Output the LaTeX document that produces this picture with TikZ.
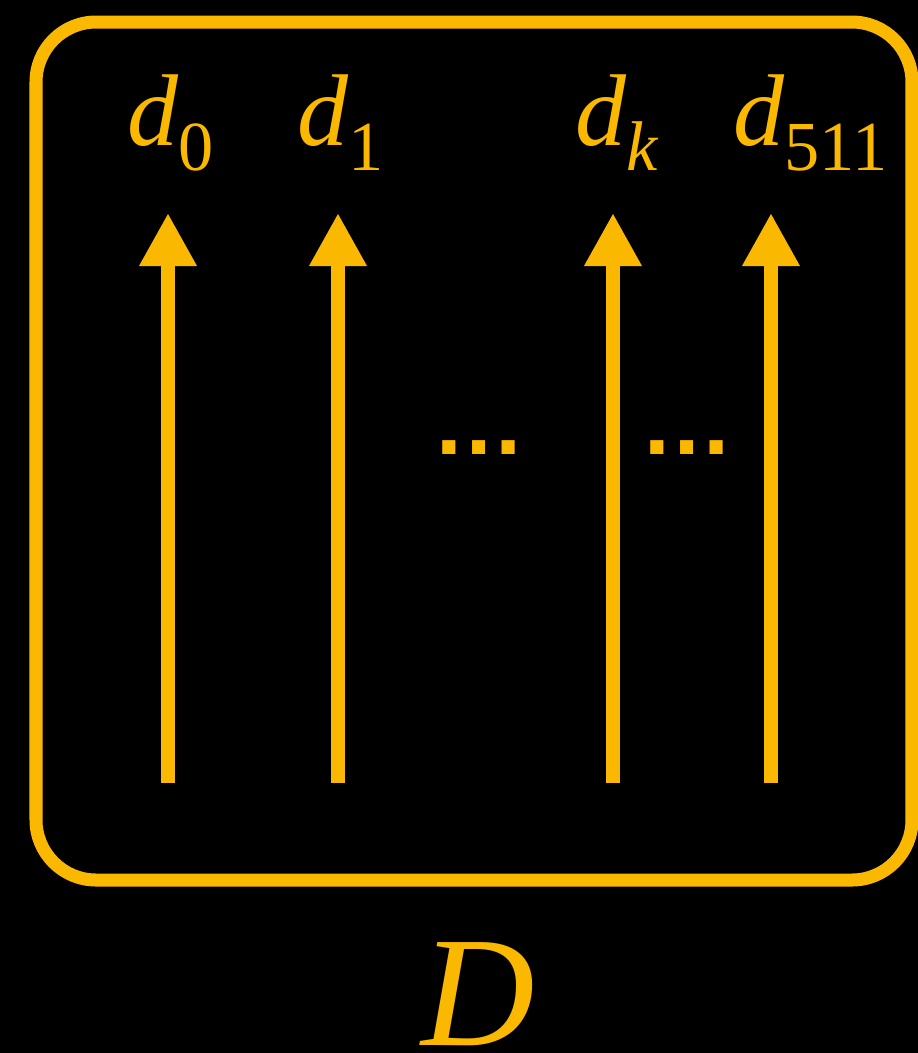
\documentclass[tikz,border=0pt]{standalone}
\usepackage{fontspec}
\setmainfont{Liberation Serif}
\newfontfamily\dotfont{Liberation Sans}
\usetikzlibrary{arrows.meta}
\definecolor{cgold}{HTML}{FAB900}
\tikzset{
	every picture/.style={font=\fontsize{29}{29}\selectfont,},
	lw/.style={line width=0.13cm,},
	%%%
	frame/.style={cgold, lw, rounded corners=0.6cm},
	dataarrow/.style={cgold, lw, -{Triangle[length=0.53cm, width=0.54cm]}},
	dlabel/.style={cgold, anchor=base west, inner sep=0},
	ellip/.style={cgold, anchor=base, inner sep=0, font=\dotfont\bfseries\fontsize{26.5}{26.5}\selectfont},
	setlabel/.style={cgold, anchor=base, inner sep=0, font=\fontsize{44.7}{44.7}\selectfont\itshape},
}
\gdef\ytop{213}
\gdef\ybot{783}
\gdef\ylbl{145}
\newcommand\subsc[1]{\raisebox{-0.25cm}{\fontsize{20}{20}\selectfont #1}}
\newcommand\dsym[1]{{\itshape d}\subsc{#1}}

\begin{document}
\begin{tikzpicture}[x=0.01cm, y=-0.01cm]

	%%% Background, frame

	\fill[black] (0,0) rectangle (918,1053);
	\useasboundingbox (0,0) rectangle (918,1053);

	\draw[frame] (36,22) rectangle (912,880);

	%%% Arrows

	\coordinate (b0) at (168,\ybot);   \coordinate (t0) at (168,\ytop);
	\coordinate (b1) at (338,\ybot);   \coordinate (t1) at (338,\ytop);
	\coordinate (bk) at (613,\ybot);   \coordinate (tk) at (613,\ytop);
	\coordinate (bn) at (771,\ybot);   \coordinate (tn) at (771,\ytop);

	\foreach \i in {0,1,k,n}
		\draw[dataarrow] (b\i) -- (t\i);

	%%% Labels

	\node[dlabel] (d0) at (127,\ylbl) {\dsym{0}};
	\node[dlabel] (d1) at (297,\ylbl) {\dsym{1}};
	\node[dlabel] (dk) at (575,\ylbl) {\dsym{\itshape k}};
	\node[dlabel] (dn) at (733,\ylbl) {\dsym{511}};

	\node[ellip] (dotsA) at (479.5,454) {…};
	\node[ellip] (dotsB) at (687.5,454) {…};

	\node[setlabel] (setD) at (478,1045) {D};

\end{tikzpicture}
\end{document}
